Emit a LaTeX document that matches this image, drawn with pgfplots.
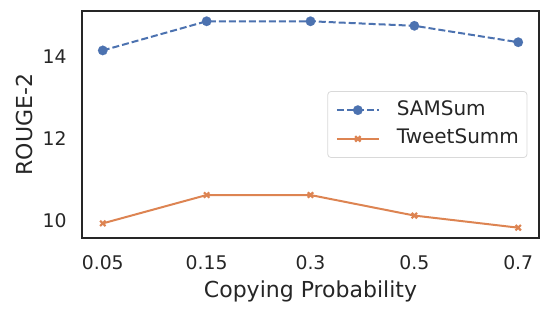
\documentclass[border=0pt]{standalone}
\usepackage{pgfplots}
\pgfplotsset{compat=1.18}
\usepackage{fontspec}
\setmainfont{DejaVu Sans}
\definecolor{sbblue}{HTML}{4C72B0}
\definecolor{sborange}{HTML}{DD8452}
\definecolor{txt}{HTML}{262626}
\begin{document}
\begin{tikzpicture}
\begin{axis}[
  scale only axis,
  width=457bp, height=227bp,
  xmin=-0.2, xmax=4.2,
  ymin=9.584, ymax=15.11,
  xtick={0,1,2,3,4},
  xticklabels={0.05,0.15,0.3,0.5,0.7},
  ytick={10,12,14},
  major tick length=0pt,
  axis line style={txt, line width=1.3bp},
  /pgf/number format/assume math mode=true,
  tick label style={font=\fontsize{18.8bp}{22bp}\selectfont, text=txt},
  xticklabel style={yshift=-14bp},
  yticklabel style={xshift=-12bp},
  label style={font=\fontsize{22bp}{26bp}\selectfont, text=txt},
  xlabel={Copying Probability},
  ylabel={ROUGE-2},
  xlabel style={at={(axis description cs:0.5,-0.2335)}, anchor=center},
  ylabel style={at={(axis description cs:-0.1269,0.5)}, anchor=center},
  legend style={at={(axis description cs:1,0.5)}, anchor=east, xshift=-11.7bp,
    font=\fontsize{20bp}{24bp}\selectfont, text=txt,
    draw=black!15, line width=0.8bp, rounded corners=3bp, fill=white,
    nodes={inner sep=0pt, text height=15bp, text depth=5bp},
    row sep=8.7bp, column sep=17bp,
    inner xsep=8bp, inner ysep=8.6bp},
  legend cell align=left,
  legend image code/.code={
    \draw[mark repeat=2, mark phase=2, #1] plot coordinates {(0bp,0bp) (21bp,0bp) (42bp,0bp)};
  },
]
\addplot[sbblue, line width=2bp, dashed, dash pattern=on 7bp off 3bp, mark=*, mark size=4.8bp, mark options={solid, fill=sbblue, draw=sbblue, line width=0.1bp}]
  table {
x y
0 14.15
1 14.86
2 14.86
3 14.75
4 14.35
};
\addlegendentry{SAMSum}
\addplot[sborange, line width=2bp, mark=x, mark size=3.8bp, mark options={solid, line width=2.2bp}]
  table {
x y
0 9.94
1 10.63
2 10.63
3 10.13
4 9.835
};
\addlegendentry{TweetSumm}
\end{axis}
\path (current axis.south west) ++(-82bp,-76bp) rectangle ++(550bp,314bp);
\end{tikzpicture}
\end{document}
